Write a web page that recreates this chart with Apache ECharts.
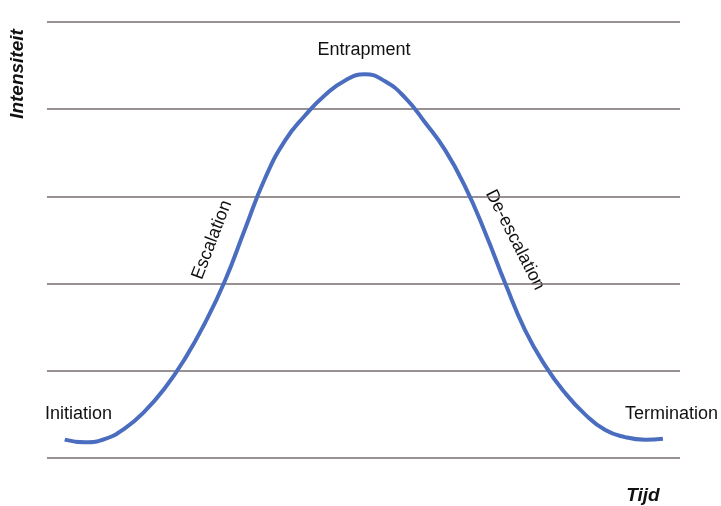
<!DOCTYPE html>
<html>
<head>
<meta charset="utf-8">
<script src="https://cdn.jsdelivr.net/npm/echarts@6/dist/echarts.min.js"></script>
<style>
    html, body { margin: 0; padding: 0; background: #fff; }
    #chart { width: 721px; height: 506px; }
</style>
</head>
<body>
<div id="chart"></div>
<script>
// tijd (0-100) en intensiteit (0-5)
var tijd = [2.8, 6.0, 9.2, 12.3, 15.5, 18.6, 21.8, 24.9, 28.1, 31.3, 34.4, 37.6, 40.8, 43.9, 47.1, 50.2,
    53.4, 56.6, 59.7, 62.9, 66.0, 69.2, 72.4, 75.5, 78.7, 81.8, 85.0, 88.2, 91.3, 94.5, 97.3];
var intensiteit = [0.21, 0.18, 0.22, 0.34, 0.54, 0.80, 1.14, 1.54, 2.03, 2.63, 3.20, 3.64, 3.93, 4.16, 4.33, 4.40,
    4.32, 4.13, 3.85, 3.53, 3.12, 2.59, 2.0, 1.47, 1.06, 0.75, 0.50, 0.32, 0.24, 0.21, 0.22];
var fases = ['Initiation', 'Escalation', 'Entrapment', 'De-escalation', 'Termination'];

var chart = echarts.init(document.getElementById('chart'));

var points = tijd.map(function (t, i) {
    return [t, intensiteit[i]];
});

var font = '"Liberation Sans", Arial, sans-serif';

var option = {
    animation: false,
    grid: {
        left: 47,
        right: 41,
        top: 22,
        bottom: 48
    },
    xAxis: {
        type: 'value',
        min: 0,
        max: 100,
        show: false
    },
    yAxis: {
        type: 'value',
        min: 0,
        max: 5,
        interval: 1,
        axisLine: { show: false },
        axisTick: { show: false },
        axisLabel: { show: false },
        splitLine: {
            show: true,
            lineStyle: { color: '#776c6c', width: 1.5 }
        }
    },
    series: [{
        type: 'line',
        data: points,
        smooth: 0.5,
        symbol: 'none',
        lineStyle: { color: '#4a6dbf', width: 4 }
    }],
    graphic: [
        { // y-as titel
            type: 'text', x: 18, y: 74, rotation: Math.PI / 2,
            style: { text: 'Intensiteit', font: 'italic bold 19px ' + font, fill: '#111', align: 'center', verticalAlign: 'middle' }
        },
        { // x-as titel
            type: 'text', x: 643, y: 496,
            style: { text: 'Tijd', font: 'italic bold 19px ' + font, fill: '#111', align: 'center', verticalAlign: 'middle' }
        },
        {
            type: 'text', x: 45, y: 414,
            style: { text: fases[0], font: '18px ' + font, fill: '#111', align: 'left', verticalAlign: 'middle' }
        },
        {
            type: 'text', x: 212, y: 240, rotation: 69 * Math.PI / 180,
            style: { text: fases[1], font: '18px ' + font, fill: '#111', align: 'center', verticalAlign: 'middle' }
        },
        {
            type: 'text', x: 364, y: 50,
            style: { text: fases[2], font: '18px ' + font, fill: '#111', align: 'center', verticalAlign: 'middle' }
        },
        {
            type: 'text', x: 515, y: 240, rotation: -63 * Math.PI / 180,
            style: { text: fases[3], font: '18px ' + font, fill: '#111', align: 'center', verticalAlign: 'middle' }
        },
        {
            type: 'text', x: 718, y: 414,
            style: { text: fases[4], font: '18px ' + font, fill: '#111', align: 'right', verticalAlign: 'middle' }
        }
    ]
};
chart.setOption(option);
</script>
</body>
</html>
